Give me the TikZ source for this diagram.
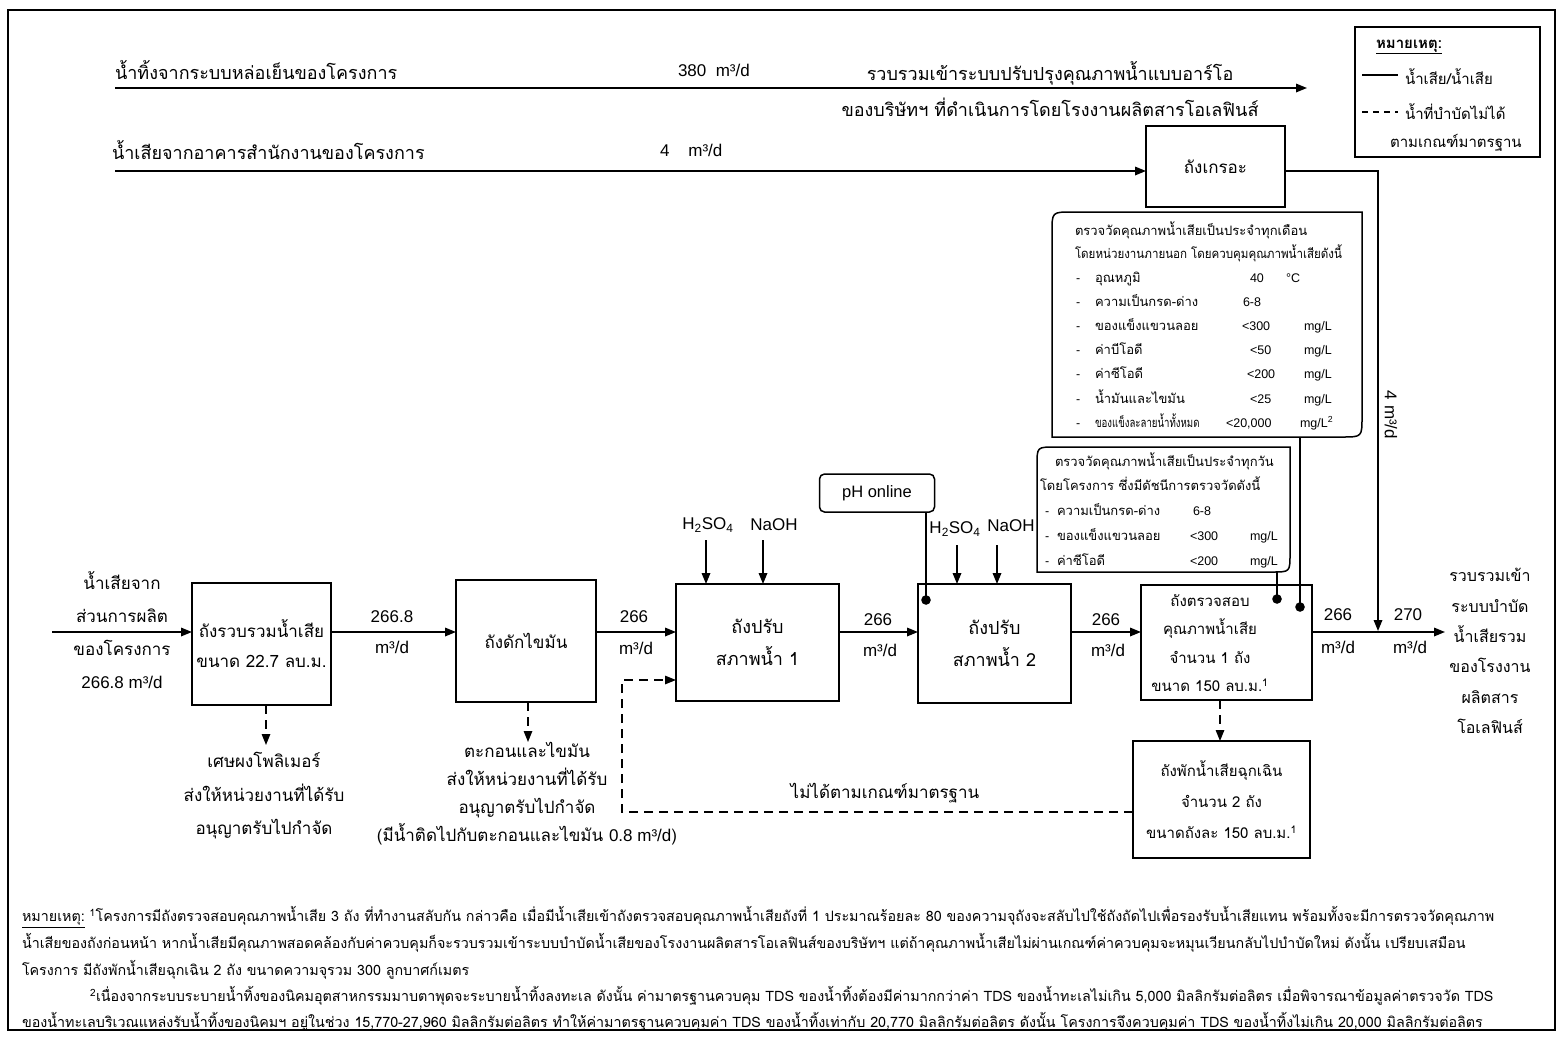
\documentclass[tikz,border=0pt]{standalone}
\usepackage{fontspec}
\setmainfont[Script=Thai]{Loma}
\newfontfamily\lat{Liberation Sans}
\usetikzlibrary{arrows.meta,calc}
\begin{document}
\begin{tikzpicture}[x=1pt,y=-1pt,
  every node/.style={inner sep=0pt, outer sep=0pt},
  th/.style={font=\fontsize{17}{30}\selectfont, align=center},
  thw/.style={font=\fontsize{18}{30}\selectfont, anchor=west},
  la/.style={font=\lat\fontsize{17}{30}\selectfont, align=center},
  box/.style={draw, line width=1.7pt, align=center, font=\fontsize{17}{30}\selectfont},
  tip/.style={-{Triangle[length=11pt,width=8.5pt]}},
  flow/.style={line width=1.7pt, tip},
  dflow/.style={line width=1.4pt, dash pattern=on 9pt off 6pt, tip},
  thin/.style={line width=1.5pt},
  mb/.style={font=\fontsize{13}{16}\selectfont, anchor=base west},
  mbl/.style={font=\lat\fontsize{12.5}{16}\selectfont, anchor=base west},
  fn/.style={font=\fontsize{14.3}{16}\selectfont, anchor=west},
  dot/.style={fill=black}
]
\useasboundingbox (0,0) rectangle (1560,1036);
\fill[white] (0,0) rectangle (1560,1036);
% outer frame
\draw[line width=1.8pt] (8,10) rectangle (1555,1030);

% ---------- top lines ----------
\coordinate (t1s) at (115,88);
\coordinate (t1e) at (1307,88);
\draw[flow] (t1s) -- (t1e);
\node[thw] (t1a) at (115,70) {น้ำทิ้งจากระบบหล่อเย็นของโครงการ};
\node[la, anchor=west] (t1b) at (678,70) {380\ \ m³/d};
\node[th, font=\fontsize{18}{30}\selectfont] (t1c) at (1050,73) {รวบรวมเข้าระบบปรับปรุงคุณภาพน้ำแบบอาร์โอ};
\node[th, font=\fontsize{18}{30}\selectfont] (t1d) at (1050,107) {ของบริษัทฯ ที่ดำเนินการโดยโรงงานผลิตสารโอเลฟินส์};

\node[box, minimum width=139pt, minimum height=81pt] (gk) at (1215.5,166.5) {ถังเกรอะ};
\coordinate (t2s) at (115,171);
\draw[flow] (t2s) -- (gk.west |- t2s);
\node[thw] (t2a) at (112,150) {น้ำเสียจากอาคารสำนักงานของโครงการ};
\node[la, anchor=west] (t2b) at (660,150) {4\ \ \ \ m³/d};

% septic to final
\coordinate (c4) at (1378,631);
\draw[flow] (gk.east |- t2s) -| (c4);
\node[la, rotate=-90] (c4l) at (1391,415) {4 m³/d};

% ---------- legend ----------
\node[box, minimum width=185pt, minimum height=130pt, line width=1.5pt] (leg) at (1447.5,92) {};
\node[font=\fontsize{15}{18}\selectfont\bfseries, anchor=west] (legt) at (1376,47) {\underline{หมายเหตุ:}};
\coordinate (l1a) at (1362,75); \coordinate (l1b) at (1398,75);
\draw[thin] (l1a) -- (l1b);
\node[font=\fontsize{15}{18}\selectfont, anchor=west] (leg1) at (1405,77) {น้ำเสีย/น้ำเสีย};
\coordinate (l2a) at (1362,112); \coordinate (l2b) at (1398,112);
\draw[thin, dash pattern=on 6pt off 5pt] (l2a) -- (l2b);
\node[font=\fontsize{15}{18}\selectfont, anchor=west] (leg2) at (1405,112) {น้ำที่บำบัดไม่ได้};
\node[font=\fontsize{15}{18}\selectfont, anchor=west] (leg3) at (1390,143) {ตามเกณฑ์มาตรฐาน};

% ---------- monthly check box ----------
\draw[thin] (1052,437) -- (1052,232) .. controls (1052,212) .. (1072,212) -- (1362,212) -- (1362,417) .. controls (1362,437) .. (1342,437) -- cycle;
\node[mb] (m0) at (1075,235) {ตรวจวัดคุณภาพน้ำเสียเป็นประจำทุกเดือน};
\node[mb] (m00) at (1075,258) {\scalebox{0.89}[1]{โดยหน่วยงานภายนอก โดยควบคุมคุณภาพน้ำเสียดังนี้}};
\foreach \yy/\nm in {282/อุณหภูมิ, 306/ความเป็นกรด-ด่าง, 330/ของแข็งแขวนลอย, 354/ค่าบีโอดี, 378/ค่าซีโอดี, 403/น้ำมันและไขมัน}{
  \node[mbl] at (1076,\yy) {-};
  \node[mb] at (1095,\yy) {\nm};
}
\node[mbl] at (1076,427) {-};
\node[mb] at (1095,427) {\scalebox{0.74}[1]{ของแข็งละลายน้ำทั้งหมด}};
\node[mbl] at (1250,282) {40};  \node[mbl] at (1286,282) {°C};
\node[mbl] at (1243,306) {6-8};
\node[mbl] at (1242,330) {<300};   \node[mbl] at (1304,330) {mg/L};
\node[mbl] at (1250,354) {<50};    \node[mbl] at (1304,354) {mg/L};
\node[mbl] at (1247,378) {<200};   \node[mbl] at (1304,378) {mg/L};
\node[mbl] at (1250,403) {<25};    \node[mbl] at (1304,403) {mg/L};
\node[mbl] at (1226,427) {<20,000}; \node[mbl] at (1300,427) {mg/L\textsuperscript{2}};

% ---------- daily check box ----------
\draw[thin] (1037,572) -- (1037,465) .. controls (1037,447) .. (1055,447) -- (1290,447) -- (1290,554) .. controls (1290,572) .. (1272,572) -- cycle;
\node[mb] (dd0) at (1055,466) {ตรวจวัดคุณภาพน้ำเสียเป็นประจำทุกวัน};
\node[mb] (dd00) at (1040,490) {โดยโครงการ ซึ่งมีดัชนีการตรวจวัดดังนี้};
\foreach \yy/\nm in {515/ความเป็นกรด-ด่าง, 540/ของแข็งแขวนลอย, 565/ค่าซีโอดี}{
  \node[mbl] at (1045,\yy) {-};
  \node[mb] at (1057,\yy) {\nm};
}
\node[mbl] at (1193,515) {6-8};
\node[mbl] at (1190,540) {<300};  \node[mbl] at (1250,540) {mg/L};
\node[mbl] at (1190,565) {<200};  \node[mbl] at (1250,565) {mg/L};

% ---------- main process line ----------
\coordinate (m) at (0,632);
\coordinate (in) at (52,632);
\node[th] (inl) at (122,630) {น้ำเสียจาก\\[3pt]ส่วนการผลิต\\[3pt]ของโครงการ\\[3pt]{\lat 266.8 m³/d}};

\node[box, minimum width=139pt, minimum height=122pt] (b1) at (261.5,644) {ถังรวบรวมน้ำเสีย\\ขนาด 22.7 ลบ.ม.};
\node[box, minimum width=140pt, minimum height=122pt] (b2) at (526,641) {ถังดักไขมัน};
\node[box, minimum width=163pt, minimum height=117pt, font=\fontsize{18}{32}\selectfont] (b3) at (757.5,642.5) {ถังปรับ\\สภาพน้ำ 1};
\node[box, minimum width=153pt, minimum height=119pt, font=\fontsize{18}{32}\selectfont] (b4) at (994.5,643.5) {ถังปรับ\\สภาพน้ำ 2};
\node[box, minimum width=171pt, minimum height=115pt] (b5) at (1226.5,642.5) {};
\node[font=\fontsize{15}{28.5}\selectfont, align=center] (b5t) at (1210,643) {ถังตรวจสอบ\\คุณภาพน้ำเสีย\\จำนวน 1 ถัง\\ขนาด 150 ลบ.ม.\textsuperscript{1}};
\node[box, minimum width=177pt, minimum height=117pt, font=\fontsize{15}{31}\selectfont] (b6) at (1221.5,799.5) {ถังพักน้ำเสียฉุกเฉิน\\จำนวน 2 ถัง\\ขนาดถังละ 150 ลบ.ม.\textsuperscript{1}};

\draw[flow] (in) -- (b1.west |- m);
\draw[flow] (b1.east |- m) -- (b2.west |- m);
\draw[flow] (b2.east |- m) -- (b3.west |- m);
\draw[flow] (b3.east |- m) -- (b4.west |- m);
\draw[flow] (b4.east |- m) -- (b5.west |- m);
\coordinate (out) at (1445,632);
\draw[flow] (b5.east |- m) -- (out);

\node[la] (q1) at (392,617) {266.8}; \node[la] (q1u) at (392,647) {m³/d};
\node[la] (q2) at (634,617) {266};   \node[la] (q2u) at (636,648) {m³/d};
\node[la] (q3) at (878,620) {266};   \node[la] (q3u) at (880,650) {m³/d};
\node[la] (q4) at (1106,620) {266};  \node[la] (q4u) at (1108,650) {m³/d};
\node[la] (q5) at (1338,615) {266};  \node[la] (q5u) at (1338,647) {m³/d};
\node[la] (q6) at (1408,615) {270};  \node[la] (q6u) at (1410,647) {m³/d};

\node[font=\fontsize{16}{30.4}\selectfont, align=center] (outl) at (1490,651) {รวบรวมเข้า\\ระบบบำบัด\\น้ำเสียรวม\\ของโรงงาน\\ผลิตสาร\\โอเลฟินส์};

% chemicals
\node[la] (h1) at (708,525) {H\textsubscript{2}SO\textsubscript{4}};
\node[la] (n1) at (774,525) {NaOH};
\coordinate (a1) at (706,540); \coordinate (a2) at (763,540);
\draw[flow] (a1) -- (a1 |- b3.north);
\draw[flow] (a2) -- (a2 |- b3.north);
\node[la] (h2) at (955,529) {H\textsubscript{2}SO\textsubscript{4}};
\node[la] (n2) at (1011,526) {NaOH};
\coordinate (a3) at (957,545); \coordinate (a4) at (997,545);
\draw[flow] (a3) -- (a3 |- b4.north);
\draw[flow] (a4) -- (a4 |- b4.north);

% pH online
\node[draw, thin, rounded corners=5pt, minimum width=115pt, minimum height=38pt, font=\lat\fontsize{16.5}{20}\selectfont] (ph) at (877,493) {pH online};
\coordinate (d1) at (926,600);
\draw[thin] (ph.south -| d1) -- (d1);
\fill[dot] (d1) circle (4.8pt);

% check lines to tank 5
\coordinate (d2) at (1277,599);
\coordinate (d3) at (1300,607);
\coordinate (d2t) at (1277,572);
\coordinate (d3t) at (1300,437);
\draw[thin] (d2t) -- (d2);
\draw[thin] (d3t) -- (d3);
\fill[dot] (d2) circle (4.8pt);
\fill[dot] (d3) circle (4.8pt);

% side outputs
\coordinate (s1) at (266,745);
\draw[dflow] (b1.south -| s1) -- (s1);
\node[th, font=\fontsize{17}{33.5}\selectfont] (s1t) at (264,796) {เศษผงโพลิเมอร์\\ส่งให้หน่วยงานที่ได้รับ\\อนุญาตรับไปกำจัด};
\coordinate (s2) at (528,742);
\draw[dflow] (b2.south -| s2) -- (s2);
\node[th, font=\fontsize{17}{28}\selectfont] (s2t) at (527,794) {ตะกอนและไขมัน\\ส่งให้หน่วยงานที่ได้รับ\\อนุญาตรับไปกำจัด\\(มีน้ำติดไปกับตะกอนและไขมัน {\lat 0.8 m³/d})};

% emergency
\coordinate (e5) at (1220,700);
\draw[dflow] (e5) -- (e5 |- b6.north);
\coordinate (ry) at (0,812);
\coordinate (rx) at (622,680);
\draw[dflow] (b6.west |- ry) -| (rx) -- (b3.west |- rx);
\node[th] (rl) at (885,793) {ไม่ได้ตามเกณฑ์มาตรฐาน};

% ---------- footnote ----------
\node[fn] (f1) at (22,917) {\underline{หมายเหตุ:} \textsuperscript{1}โครงการมีถังตรวจสอบคุณภาพน้ำเสีย 3 ถัง ที่ทำงานสลับกัน กล่าวคือ เมื่อมีน้ำเสียเข้าถังตรวจสอบคุณภาพน้ำเสียถังที่ 1 ประมาณร้อยละ 80 ของความจุถังจะสลับไปใช้ถังถัดไปเพื่อรองรับน้ำเสียแทน พร้อมทั้งจะมีการตรวจวัดคุณภาพ};
\node[fn] (f2) at (22,943) {น้ำเสียของถังก่อนหน้า หากน้ำเสียมีคุณภาพสอดคล้องกับค่าควบคุมก็จะรวบรวมเข้าระบบบำบัดน้ำเสียของโรงงานผลิตสารโอเลฟินส์ของบริษัทฯ แต่ถ้าคุณภาพน้ำเสียไม่ผ่านเกณฑ์ค่าควบคุมจะหมุนเวียนกลับไปบำบัดใหม่ ดังนั้น เปรียบเสมือน};
\node[fn] (f3) at (22,970) {โครงการ มีถังพักน้ำเสียฉุกเฉิน 2 ถัง ขนาดความจุรวม 300 ลูกบาศก์เมตร};
\node[fn] (f4) at (90,996) {\textsuperscript{2}เนื่องจากระบบระบายน้ำทิ้งของนิคมอุตสาหกรรมมาบตาพุดจะระบายน้ำทิ้งลงทะเล ดังนั้น ค่ามาตรฐานควบคุม TDS ของน้ำทิ้งต้องมีค่ามากกว่าค่า TDS ของน้ำทะเลไม่เกิน 5,000 มิลลิกรัมต่อลิตร เมื่อพิจารณาข้อมูลค่าตรวจวัด TDS};
\node[fn] (f5) at (22,1022) {ของน้ำทะเลบริเวณแหล่งรับน้ำทิ้งของนิคมฯ อยู่ในช่วง 15,770-27,960 มิลลิกรัมต่อลิตร ทำให้ค่ามาตรฐานควบคุมค่า TDS ของน้ำทิ้งเท่ากับ 20,770 มิลลิกรัมต่อลิตร ดังนั้น โครงการจึงควบคุมค่า TDS ของน้ำทิ้งไม่เกิน 20,000 มิลลิกรัมต่อลิตร};
\end{tikzpicture}
\end{document}
